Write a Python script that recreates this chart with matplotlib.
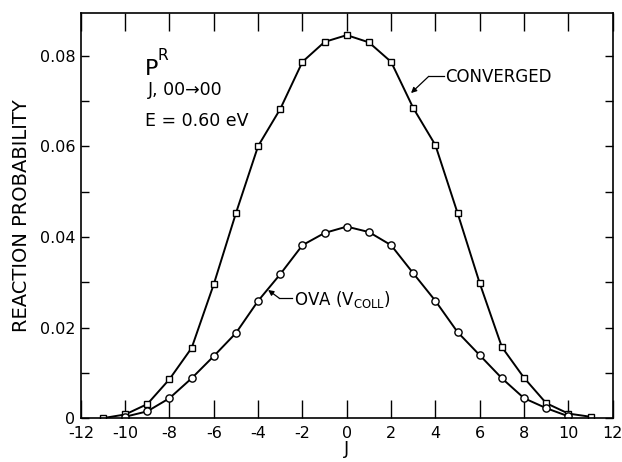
import numpy as np
import matplotlib
matplotlib.use("Agg")
import matplotlib.pyplot as plt
from matplotlib.ticker import MultipleLocator, FuncFormatter

plt.rcParams['axes.unicode_minus'] = False

# J values and reaction probabilities
j_conv = [-11, -10, -9, -8, -7, -6, -5, -4, -3, -2, -1, 0, 1, 2, 3, 4, 5, 6, 7, 8, 9, 10, 11]
p_conv = [0.0000, 0.0008, 0.0031, 0.0086, 0.0155, 0.0296, 0.0453, 0.0601, 0.0683, 0.0787,
          0.0831, 0.0846, 0.0830, 0.0787, 0.0685, 0.0603, 0.0453, 0.0298, 0.0157, 0.0089,
          0.0033, 0.0010, 0.0003]

j_ova = [-10, -9, -8, -7, -6, -5, -4, -3, -2, -1, 0, 1, 2, 3, 4, 5, 6, 7, 8, 9, 10]
p_ova = [0.0003, 0.0015, 0.0044, 0.0088, 0.0137, 0.0188, 0.0259, 0.0318, 0.0382, 0.0409,
         0.0423, 0.0411, 0.0382, 0.0320, 0.0259, 0.0190, 0.0139, 0.0088, 0.0044, 0.0022,
         0.0004]

fig = plt.figure(figsize=(6.22, 4.62), dpi=100)
ax = fig.add_axes([0.130, 0.095, 0.855, 0.877])

ax.plot(j_conv, p_conv, color='black', lw=1.4, marker='s', ms=5,
        mfc='white', mec='black', mew=1.0)
ax.plot(j_ova, p_ova, color='black', lw=1.4, marker='o', ms=5.2,
        mfc='white', mec='black', mew=1.0)

ax.set_xlim(-12, 12)
ax.set_ylim(0, 0.0895)

ax.xaxis.set_major_locator(MultipleLocator(2))
ax.yaxis.set_major_locator(MultipleLocator(0.02))
ax.yaxis.set_minor_locator(MultipleLocator(0.01))
ax.yaxis.set_major_formatter(FuncFormatter(lambda v, p: '0' if abs(v) < 1e-9 else f'{v:.2f}'))
ax.xaxis.set_major_formatter(FuncFormatter(lambda v, p: f'{int(round(v))}'))

ax.tick_params(which='both', direction='in', top=True, right=True, width=1.0)
ax.tick_params(which='major', length=6, labelsize=11.5)
ax.tick_params(axis='y', which='major', pad=4)
ax.tick_params(axis='x', which='major', pad=6)
ax.tick_params(which='minor', length=6)

# longer tick at J = 0
for t in ax.xaxis.get_major_ticks():
    if abs(t.get_loc()) < 1e-9:
        t.tick1line.set_markersize(13)
        t.tick2line.set_markersize(13)

for s in ax.spines.values():
    s.set_linewidth(1.2)

ax.set_xlabel('J', fontsize=13, labelpad=-1)
ax.set_ylabel('REACTION PROBABILITY', fontsize=14, labelpad=6)

# P^R_{J,00->00} label
ax.text(-9.12, 0.0758, 'P', fontsize=16, va='baseline', ha='left')
ax.text(-8.54, 0.0790, 'R', fontsize=11, va='baseline', ha='left')
ax.text(-8.99, 0.0714, 'J, 00\u219200', fontsize=12.5, va='baseline', ha='left')
ax.text(-9.12, 0.0645, 'E = 0.60 eV', fontsize=12.5, va='baseline', ha='left')

# CONVERGED leader
ax.text(4.45, 0.0754, 'CONVERGED', fontsize=12, va='center', ha='left')
ax.plot([4.4, 3.7], [0.0755, 0.0755], color='black', lw=0.9)
ax.annotate('', xy=(2.9, 0.0718), xytext=(3.7, 0.0755),
            arrowprops=dict(arrowstyle='-|>', color='black', lw=0.9,
                            mutation_scale=8, shrinkA=0, shrinkB=0))

# OVA leader
ax.text(-2.38, 0.0263, r'OVA (V$_{\mathsf{COLL}}$)', fontsize=12, va='center', ha='left')
ax.plot([-2.45, -3.05], [0.0265, 0.0265], color='black', lw=0.9)
ax.annotate('', xy=(-3.55, 0.0283), xytext=(-3.05, 0.0265),
            arrowprops=dict(arrowstyle='-|>', color='black', lw=0.9,
                            mutation_scale=8, shrinkA=0, shrinkB=0))

fig.savefig('out.png', dpi=100)
